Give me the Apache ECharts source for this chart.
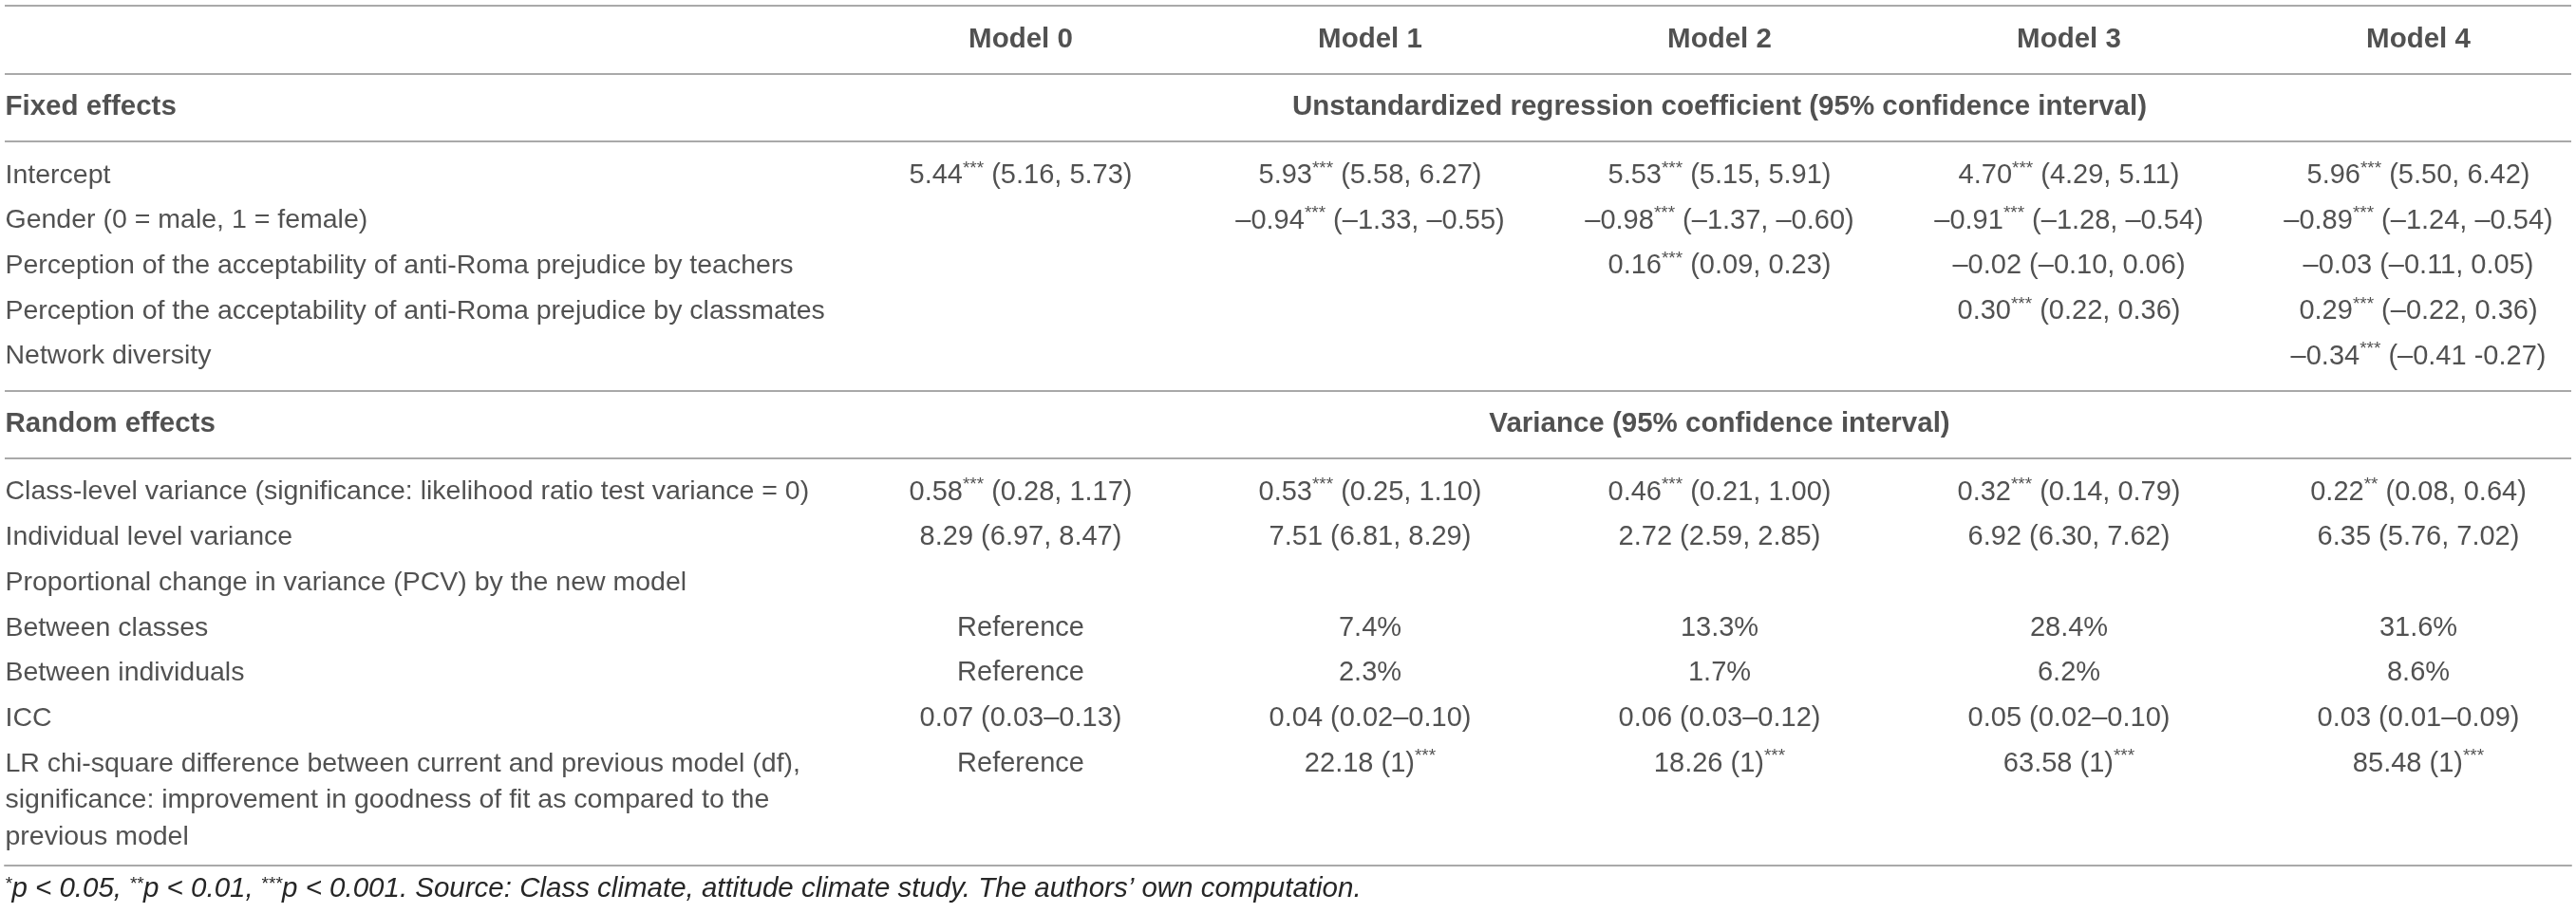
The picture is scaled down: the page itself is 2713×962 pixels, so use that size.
<!DOCTYPE html>
<html>
<head>
<meta charset="utf-8">
<script src="https://cdn.jsdelivr.net/npm/echarts@6/dist/echarts.min.js"></script>
<style>
  html, body { margin: 0; padding: 0; background: #fff; }
  #main { width: 2713px; height: 962px; }
</style>
</head>
<body>
<div id="main"></div>
<script>
// column heads
const models = ['Model 0', 'Model 1', 'Model 2', 'Model 3', 'Model 4']

// fixed effects: coefficient (95% CI)
const intercept = ['5.44*** (5.16, 5.73)', '5.93*** (5.58, 6.27)', '5.53*** (5.15, 5.91)', '4.70*** (4.29, 5.11)', '5.96*** (5.50, 6.42)']
const gender = [null, '–0.94*** (–1.33, –0.55)', '–0.98*** (–1.37, –0.60)', '–0.91*** (–1.28, –0.54)', '–0.89*** (–1.24, –0.54)']
const teachers = [null, null, '0.16*** (0.09, 0.23)', '–0.02 (–0.10, 0.06)', '–0.03 (–0.11, 0.05)']
const classmates = [null, null, null, '0.30*** (0.22, 0.36)', '0.29*** (–0.22, 0.36)']
const network = [null, null, null, null, '–0.34*** (–0.41 -0.27)']

// random effects
const classVar = ['0.58*** (0.28, 1.17)', '0.53*** (0.25, 1.10)', '0.46*** (0.21, 1.00)', '0.32*** (0.14, 0.79)', '0.22** (0.08, 0.64)']
const indivVar = ['8.29 (6.97, 8.47)', '7.51 (6.81, 8.29)', '2.72 (2.59, 2.85)', '6.92 (6.30, 7.62)', '6.35 (5.76, 7.02)']
const pcvClasses = ['Reference', '7.4%', '13.3%', '28.4%', '31.6%']
const pcvIndiv = ['Reference', '2.3%', '1.7%', '6.2%', '8.6%']
const icc = ['0.07 (0.03–0.13)', '0.04 (0.02–0.10)', '0.06 (0.03–0.12)', '0.05 (0.02–0.10)', '0.03 (0.01–0.09)']
const lrChi = ['Reference', '22.18 (1)***', '18.26 (1)***', '63.58 (1)***', '85.48 (1)***']

const footnote = '*p < 0.05, **p < 0.01, ***p < 0.001. Source: Class climate, attitude climate study. The authors’ own computation.'

const rows = [
  { label: '', values: models, kind: 'head' },
  { label: 'Fixed effects', kind: 'section', span: 'Unstandardized regression coefficient (95% confidence interval)' },
  { label: 'Intercept', values: intercept },
  { label: 'Gender (0 = male, 1 = female)', values: gender },
  { label: 'Perception of the acceptability of anti-Roma prejudice by teachers', values: teachers },
  { label: 'Perception of the acceptability of anti-Roma prejudice by classmates', values: classmates },
  { label: 'Network diversity', values: network },
  { label: 'Random effects', kind: 'section', span: 'Variance (95% confidence interval)' },
  { label: 'Class-level variance (significance: likelihood ratio test variance = 0)', values: classVar },
  { label: 'Individual level variance', values: indivVar },
  { label: 'Proportional change in variance (PCV) by the new model', values: null },
  { label: 'Between classes', values: pcvClasses },
  { label: 'Between individuals', values: pcvIndiv },
  { label: 'ICC', values: icc },
  { label: 'LR chi-square difference between current and previous model (df),\nsignificance: improvement in goodness of fit as compared to the\nprevious model', values: lrChi, multi: true }
]

// each row sits on a half-row slot; headers get extra room
const SLOT_COUNT = 38
const slotNames = Array.from({ length: SLOT_COUNT }, (_, i) => 's' + i)
let slot = 1
const rules = [0]
rows.forEach((row, i) => {
  if (i > 0) {
    const prev = rows[i - 1]
    slot += (prev.kind || row.kind === 'section') ? 3 : 2
  }
  row.slot = slot
  if (row.kind === 'section') rules.push(slot - 1, slot + 2)
})
rules.push(3)

const FONT = 'Liberation Sans'
const INK = '#262626'
const RULE = { color: '#a9a9a9', width: 2 }
const FS = 29

const rich = {
  b: { fontFamily: FONT, fontSize: 29.5, fontWeight: 'bold', color: INK },
  s: { fontFamily: FONT, fontSize: 19, color: INK, verticalAlign: 'top', lineHeight: 20 }
}

function fmt(str, bold) {
  if (bold) return '{b|' + str + '}'
  return str.replace(/\*+/g, m => '{s|' + m + '}')
}

const stubData = rows.filter(r => r.label).map(r => {
  const item = { value: [0, r.slot], text: fmt(r.label, !!r.kind) }
  if (r.multi) {
    item.label = { verticalAlign: 'top', offset: [0, -19], lineHeight: 38.5 }
  }
  return item
})

const cellData = []
rows.forEach(r => {
  if (r.kind === 'section') {
    cellData.push({ value: [2, r.slot], text: fmt(r.span, true) })
  } else if (r.values) {
    r.values.forEach((v, c) => {
      if (v) cellData.push({ value: [c, r.slot], text: fmt(v, r.kind === 'head') })
    })
  }
})

const baseLabel = {
  show: true,
  fontFamily: FONT,
  fontSize: FS,
  color: INK,
  lineHeight: 34,
  rich: rich,
  formatter: p => p.data.text
}

const chart = echarts.init(document.getElementById('main'), null, { renderer: 'canvas' })

chart.setOption({
  animation: false,
  backgroundColor: '#fff',
  title: {
    text: fmt(footnote),
    left: 5,
    top: 922,
    padding: 0,
    textStyle: {
      fontFamily: FONT,
      fontSize: 29.5,
      fontStyle: 'italic',
      fontWeight: 'normal',
      color: INK,
      rich: {
        s: { fontFamily: FONT, fontSize: 19, fontStyle: 'italic', color: INK, verticalAlign: 'top', lineHeight: 19 }
      }
    }
  },
  grid: [
    { left: 5, right: 5, top: 6, height: 906 },
    { left: 1075, right: 166, top: 6, height: 906 }
  ],
  xAxis: [
    {
      gridIndex: 0,
      type: 'value',
      min: 0,
      max: 1,
      position: 'bottom',
      axisLine: { show: true, onZero: false, lineStyle: RULE },
      axisTick: { show: false },
      axisLabel: { show: false },
      splitLine: { show: false }
    },
    { gridIndex: 1, type: 'category', data: models, boundaryGap: false, show: false }
  ],
  yAxis: [
    {
      gridIndex: 0,
      type: 'category',
      data: slotNames,
      inverse: true,
      axisLine: { show: false },
      axisTick: { show: false },
      axisLabel: { show: false },
      splitLine: {
        show: true,
        showMaxLine: false,
        interval: (idx) => rules.includes(idx),
        lineStyle: RULE
      }
    },
    { gridIndex: 1, type: 'category', data: slotNames, inverse: true, show: false }
  ],
  series: [
    {
      type: 'scatter',
      xAxisIndex: 0,
      yAxisIndex: 0,
      symbolSize: 1,
      itemStyle: { color: 'rgba(0,0,0,0)' },
      silent: true,
      label: Object.assign({}, baseLabel, { fontSize: 28.5, position: 'right', distance: 0, align: 'left' }),
      data: stubData
    },
    {
      type: 'scatter',
      xAxisIndex: 1,
      yAxisIndex: 1,
      symbolSize: 1,
      itemStyle: { color: 'rgba(0,0,0,0)' },
      silent: true,
      label: Object.assign({}, baseLabel, { position: 'inside', align: 'center' }),
      data: cellData
    }
  ]
})
</script>
</body>
</html>
